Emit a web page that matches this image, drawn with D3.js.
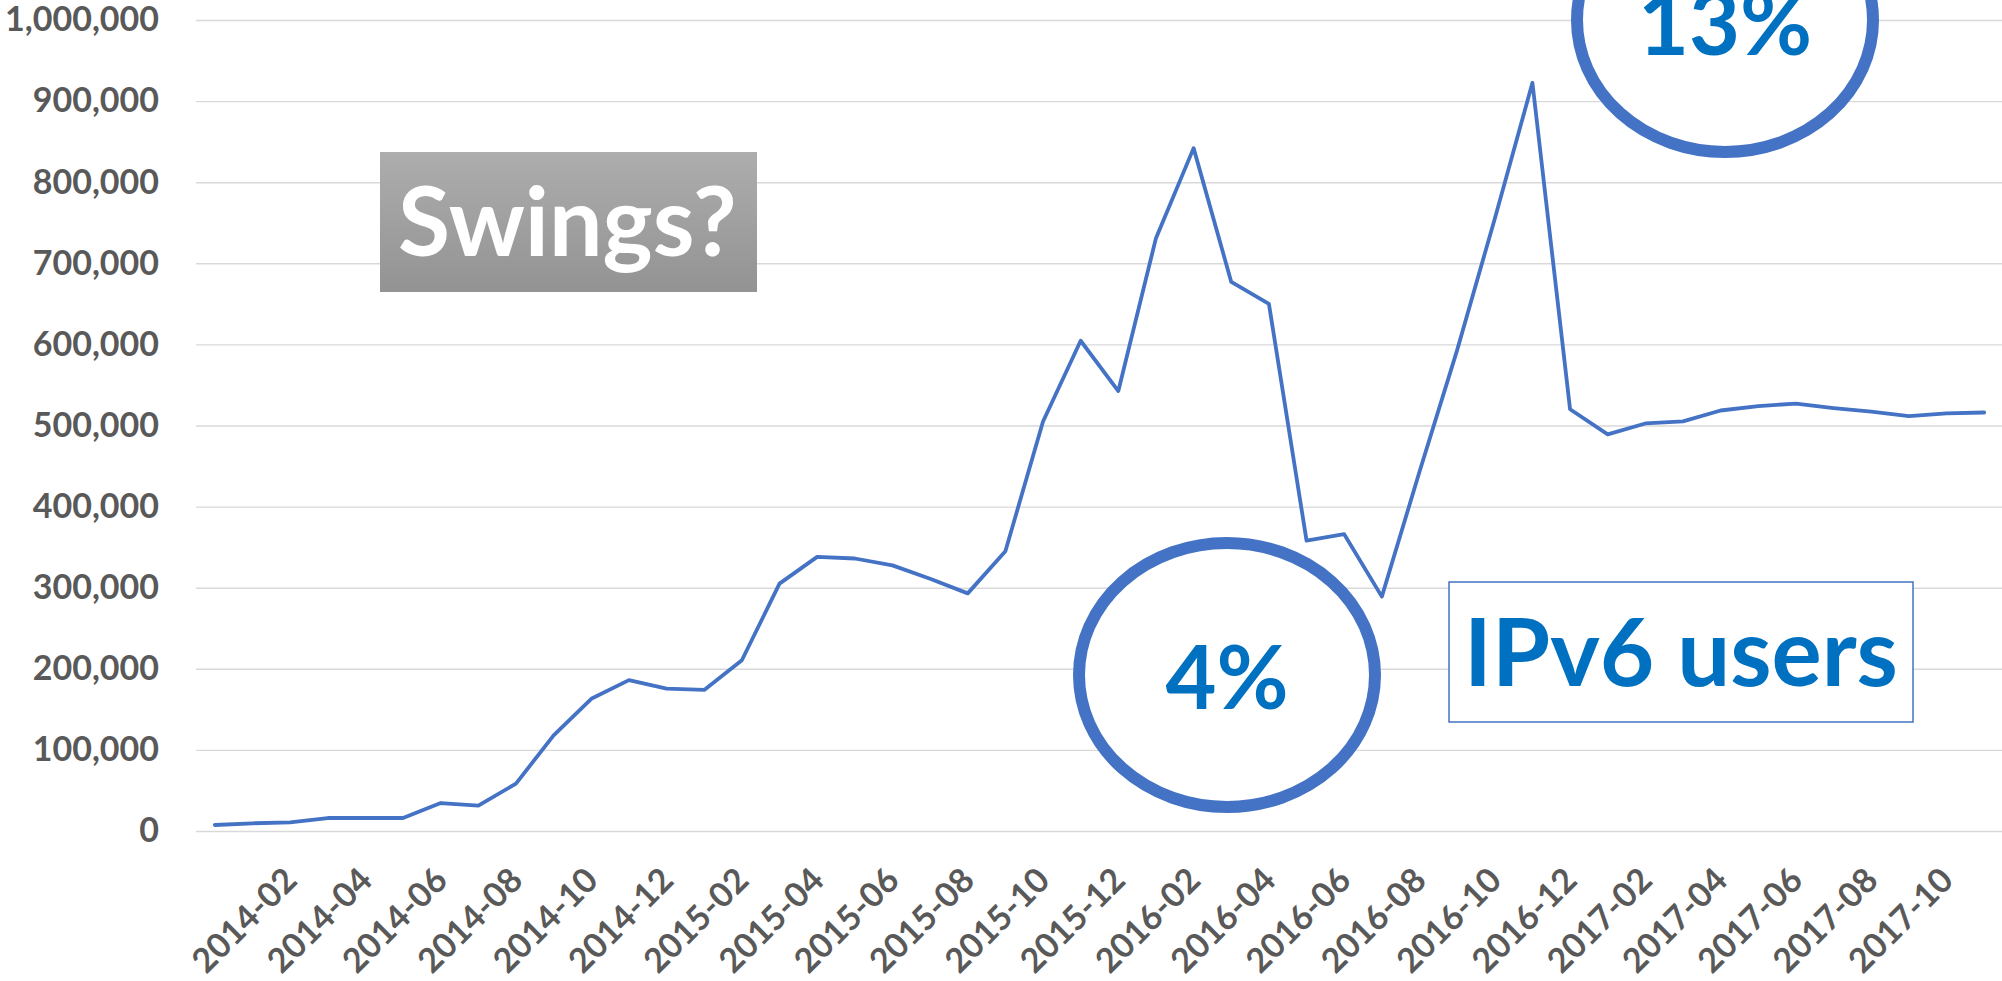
<!DOCTYPE html>
<html>
<head>
<meta charset="utf-8">
<script src="https://cdn.jsdelivr.net/npm/d3@7"></script>
<style>
  html, body { margin: 0; padding: 0; background: #fff; }
  svg { display: block; font-family: Lato, "Open Sans", sans-serif; }
</style>
</head>
<body>
<div id="chart"></div>
<script>
const width = 2002;
const height = 981;
const plotLeft = 196;
const plotRight = 2003;
const plotTop = 20;
const plotBottom = 831;

const months = [
  "2014-01", "2014-02", "2014-03", "2014-04", "2014-05", "2014-06",
  "2014-07", "2014-08", "2014-09", "2014-10", "2014-11", "2014-12",
  "2015-01", "2015-02", "2015-03", "2015-04", "2015-05", "2015-06",
  "2015-07", "2015-08", "2015-09", "2015-10", "2015-11", "2015-12",
  "2016-01", "2016-02", "2016-03", "2016-04", "2016-05", "2016-06",
  "2016-07", "2016-08", "2016-09", "2016-10", "2016-11", "2016-12",
  "2017-01", "2017-02", "2017-03", "2017-04", "2017-05", "2017-06",
  "2017-07", "2017-08", "2017-09", "2017-10", "2017-11", "2017-12"
];

// IPv6 users per month
const users = [
  7400, 9500, 10700, 16000, 16000, 16000,
  34500, 31300, 58400, 118000, 163000, 186000,
  175500, 174000, 210500, 305000, 338000, 336000,
  327500, 311000, 293000, 345000, 505000, 604500,
  542500, 731000, 842000, 677000, 650000, 358000,
  366000, 289000, 443000, 593000, 755000, 922500,
  520000, 489000, 502500, 505000, 518500, 524000,
  527000, 521500, 517000, 511500, 515000, 516000
];

const xTickLabels = [
  "2014-02", "2014-04", "2014-06", "2014-08", "2014-10", "2014-12",
  "2015-02", "2015-04", "2015-06", "2015-08", "2015-10", "2015-12",
  "2016-02", "2016-04", "2016-06", "2016-08", "2016-10", "2016-12",
  "2017-02", "2017-04", "2017-06", "2017-08", "2017-10"
];

const yTicks = [0, 100000, 200000, 300000, 400000, 500000, 600000, 700000, 800000, 900000, 1000000];

const labelColor = "#595959";
const lineColor = "#4472c4";
const textBlue = "#0070c0";

const x = d3.scaleBand(months, [plotLeft, plotRight]);
const y = d3.scaleLinear([0, 1000000], [plotBottom, plotTop]);
const cx = m => x(m) + x.bandwidth() / 2;

const svg = d3.select("#chart").append("svg")
  .attr("width", width)
  .attr("height", height)
  .attr("viewBox", `0 0 ${width} ${height}`);

const defs = svg.append("defs");
const grad = defs.append("linearGradient")
  .attr("id", "swingsFill")
  .attr("x1", 0).attr("y1", 0).attr("x2", 0).attr("y2", 1);
grad.append("stop").attr("offset", "0%").attr("stop-color", "#adadad");
grad.append("stop").attr("offset", "100%").attr("stop-color", "#939393");

// gridlines
svg.append("g")
  .attr("class", "grid")
  .attr("transform", `translate(${plotLeft},0)`)
  .call(d3.axisLeft(y).tickValues(yTicks).tickSize(-(width - plotLeft)).tickFormat(""))
  .call(g => g.select(".domain").remove())
  .call(g => g.selectAll("line").attr("stroke", "#d9d9d9").attr("stroke-width", 1.4));

// y axis labels
svg.append("g")
  .attr("class", "y-axis")
  .attr("transform", `translate(${plotLeft},0)`)
  .call(d3.axisLeft(y).tickValues(yTicks).tickSize(0).tickPadding(37).tickFormat(d3.format(",")))
  .call(g => g.select(".domain").remove())
  .call(g => g.selectAll("text")
    .attr("fill", labelColor)
    .attr("font-size", 34)
    .attr("font-weight", 700)
    .attr("font-family", "Lato, sans-serif"));

// x axis labels, rotated
svg.append("g")
  .attr("class", "x-axis")
  .attr("transform", `translate(0,${plotBottom})`)
  .call(d3.axisBottom(x).tickValues(xTickLabels).tickSize(0))
  .call(g => g.select(".domain").remove())
  .call(g => g.selectAll("text")
    .attr("y", 0)
    .attr("dy", "0.35em")
    .attr("text-anchor", "end")
    .attr("transform", "translate(38,43) rotate(-45)")
    .attr("fill", labelColor)
    .attr("font-size", 34)
    .attr("font-weight", 700)
    .attr("font-family", "Lato, sans-serif"));

// the series
const line = d3.line()
  .x((d, i) => cx(months[i]))
  .y(d => y(d));

svg.append("path")
  .datum(users)
  .attr("fill", "none")
  .attr("stroke", lineColor)
  .attr("stroke-width", 3.8)
  .attr("stroke-linejoin", "round")
  .attr("stroke-linecap", "round")
  .attr("d", line);

// annotations
const swings = svg.append("g").attr("class", "swings");
swings.append("rect")
  .attr("x", 380).attr("y", 152)
  .attr("width", 377).attr("height", 140)
  .attr("fill", "url(#swingsFill)");
swings.append("text")
  .attr("x", 398).attr("y", 256)
  .attr("fill", "#fff")
  .attr("font-size", 95)
  .attr("font-weight", 700)
  .text("Swings?");

const bubble = (g, cxPos, cyPos, label, baseline) => {
  g.append("ellipse")
    .attr("cx", cxPos).attr("cy", cyPos)
    .attr("rx", 148).attr("ry", 132)
    .attr("fill", "#fff")
    .attr("stroke", lineColor)
    .attr("stroke-width", 12);
  g.append("text")
    .attr("x", cxPos).attr("y", baseline)
    .attr("text-anchor", "middle")
    .attr("fill", textBlue)
    .attr("font-size", 88)
    .attr("font-weight", 700)
    .text(label);
};

bubble(svg.append("g"), 1227, 675, "4%", 709);
bubble(svg.append("g"), 1725, 20, "13%", 55);

const ipv6 = svg.append("g").attr("class", "ipv6");
ipv6.append("rect")
  .attr("x", 1449).attr("y", 582)
  .attr("width", 464).attr("height", 140)
  .attr("fill", "#fff")
  .attr("stroke", lineColor)
  .attr("stroke-width", 1.5);
ipv6.append("text")
  .attr("x", 1681).attr("y", 686)
  .attr("text-anchor", "middle")
  .attr("fill", textBlue)
  .attr("font-size", 94)
  .attr("font-weight", 700)
  .text("IPv6 users");
</script>
</body>
</html>
